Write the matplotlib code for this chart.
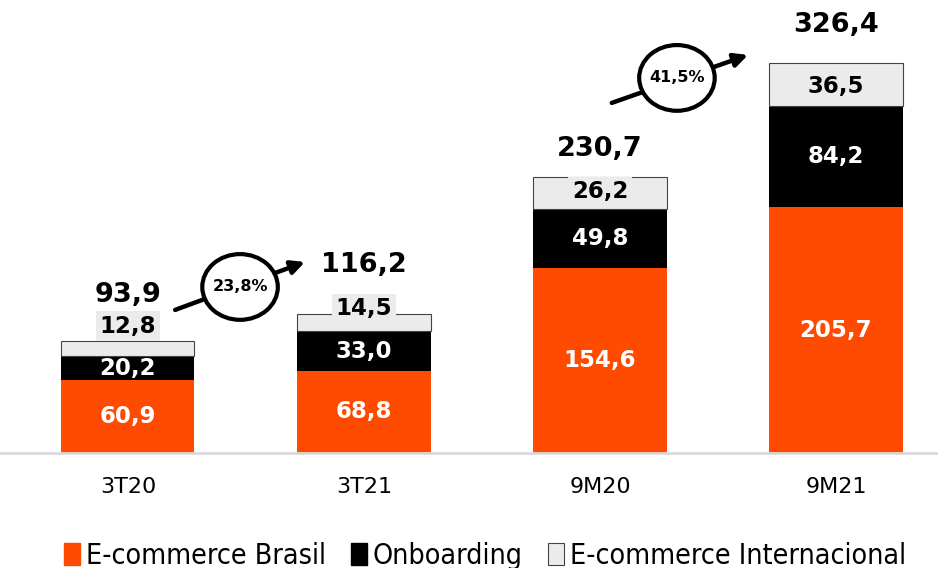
import matplotlib
matplotlib.use("Agg")
import matplotlib.pyplot as plt
from matplotlib.patches import Ellipse, Patch
import numpy as np

categories = ["3T20", "3T21", "9M20", "9M21"]
brasil = [60.9, 68.8, 154.6, 205.7]
onboarding = [20.2, 33.0, 49.8, 84.2]
internacional = [12.8, 14.5, 26.2, 36.5]
totals = [93.9, 116.2, 230.7, 326.4]
growth_labels = ["23,8%", "41,5%"]

def fmt(v):
    return f"{v:.1f}".replace(".", ",")

C_OR = "#FF4B00"
C_BK = "#000000"
C_GR = "#EBEBEB"

fig = plt.figure(figsize=(9.38, 5.68), dpi=100)
ax = fig.add_axes([0, 0.2025, 1, 0.7975])
x = np.arange(len(categories))
w = 0.564

ax.bar(x, brasil, w, color=C_OR, zorder=2)
b1 = np.array(brasil)
ax.bar(x, onboarding, w, bottom=b1, color=C_BK, zorder=2)
b2 = b1 + np.array(onboarding)
ax.bar(x, internacional, w, bottom=b2, color=C_GR, edgecolor="#444444", linewidth=0.8, zorder=2)

seg_fs = 16.5
for i in range(len(x)):
    ax.text(x[i], brasil[i] / 2, fmt(brasil[i]), ha="center", va="center",
            color="white", fontsize=seg_fs, fontweight="bold", zorder=4)
    ax.text(x[i], b1[i] + onboarding[i] / 2, fmt(onboarding[i]), ha="center", va="center",
            color="white", fontsize=seg_fs, fontweight="bold", zorder=4)

gray_off = [16, 10, 1, -1]  # points upward offset
for i in range(len(x)):
    ax.annotate(fmt(internacional[i]), (x[i], b2[i] + internacional[i] / 2),
                xytext=(0, gray_off[i]), textcoords="offset points",
                ha="center", va="center", color="black", fontsize=seg_fs, fontweight="bold",
                bbox=dict(boxstyle="square,pad=0.15", fc=C_GR, ec="none"), zorder=5)

tot_off = [33, 35, 20, 27]
for i in range(len(x)):
    ax.annotate(fmt(totals[i]), (x[i], totals[i]), xytext=(0, tot_off[i]),
                textcoords="offset points", ha="center", va="center",
                fontsize=19.5, fontweight="bold", color="black", zorder=5)

# growth arrows
arrows = [((0.20, 119.7), (0.75, 159.8), (0.475, 138.9)),
          ((2.05, 292.9), (2.627, 333.0), (2.326, 313.8))]
for (s, e, c), lab in zip(arrows, growth_labels):
    ax.annotate("", xy=e, xytext=s,
                arrowprops=dict(arrowstyle="-|>,head_length=0.8,head_width=0.4",
                                lw=3.2, color="black", shrinkA=0, shrinkB=0), zorder=6)
    ax.add_patch(Ellipse(c, 0.32, 55, facecolor="white", edgecolor="black", lw=3, zorder=7))
    ax.text(c[0], c[1], lab, ha="center", va="center", fontsize=11.5, fontweight="bold", zorder=8)

ax.set_xlim(-0.542, 3.432)
ax.set_ylim(0, 379)
for s in ["top", "right", "left"]:
    ax.spines[s].set_visible(False)
ax.spines["bottom"].set_color("#D9D9D9")
ax.spines["bottom"].set_linewidth(2)
ax.set_yticks([])
ax.set_xticks(x)
ax.set_xticklabels(categories, fontsize=16)
ax.tick_params(axis="x", length=0, pad=17)

handles = [Patch(facecolor=C_OR, edgecolor=C_OR),
           Patch(facecolor=C_BK, edgecolor=C_BK),
           Patch(facecolor=C_GR, edgecolor="#444444", linewidth=0.8)]
fig.legend(handles, ["E-commerce Brasil", "Onboarding", "E-commerce Internacional"],
           loc="center", bbox_to_anchor=(0.517, 0.022), ncol=3, frameon=False,
           prop=dict(family="DejaVu Sans", stretch="condensed", size=20.5),
           handlelength=0.55, handleheight=0.8, handletextpad=0.2, columnspacing=0.9)

fig.savefig("out.png", dpi=100)
